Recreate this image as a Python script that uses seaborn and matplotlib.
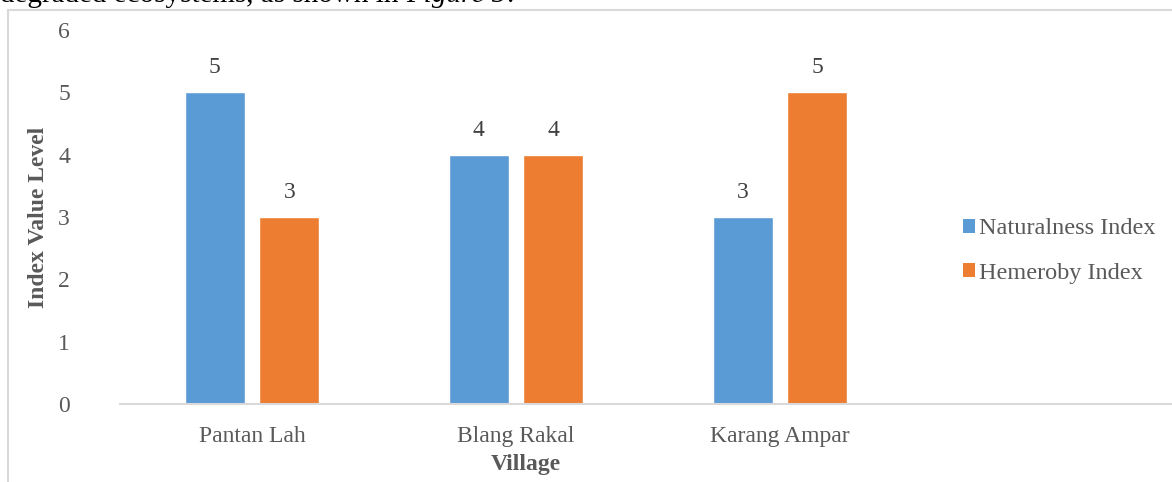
import pandas as pd
import matplotlib
matplotlib.use("Agg")
import matplotlib.pyplot as plt
import seaborn as sns
from matplotlib.patches import Rectangle, Patch

# data
villages = ["Pantan Lah", "Blang Rakal", "Karang Ampar"]
naturalness = [5, 4, 3]
hemeroby = [3, 4, 5]
series_names = ["Naturalness Index", "Hemeroby Index"]
colors = ["#5B9BD5", "#ED7D31"]

df = pd.DataFrame({
    "Village": villages * 2,
    "Value": naturalness + hemeroby,
    "Index": [series_names[0]] * 3 + [series_names[1]] * 3,
})

sns.set_style("white")
plt.rcParams["font.family"] = ["Liberation Serif", "DejaVu Serif"]

W, H = 1172, 482
fig = plt.figure(figsize=(W / 100, H / 100), dpi=100)
ax = fig.add_axes([120 / W, (H - 404) / H, 1 - 120 / W, 374 / H])

sns.barplot(data=df, x="Village", y="Value", hue="Index", palette=colors,
            width=0.568, gap=0.2, ax=ax, legend=False, saturation=1)

ax.set_ylim(0, 6)
ax.set_xlim(-0.5, (W - 120) / 264 - 0.5)
ax.set_yticks(range(0, 7))
for s in ["top", "right", "left"]:
    ax.spines[s].set_visible(False)
ax.spines["bottom"].set_color("#D9D9D9")
ax.spines["bottom"].set_linewidth(1.5)
ax.tick_params(axis="both", length=0, labelsize=17, labelcolor="#595959")
ax.tick_params(axis="y", pad=36)
ax.tick_params(axis="x", pad=16)

ax.set_ylabel("Index Value Level", fontsize=17, fontweight="bold", color="#595959")
ax.set_xlabel("Village", fontsize=17, fontweight="bold", color="#595959")
ax.yaxis.set_label_coords((49 - 120) / (W - 120), 0.5)
ax.xaxis.set_label_coords((526 - 120) / (W - 120), (404 - 454) / 374)

for c in ax.containers:
    ax.bar_label(c, padding=10, fontsize=17, color="#404040")

handles = [Patch(facecolor=col, edgecolor="none", label=n) for col, n in zip(colors, series_names)]
fig.legend(handles=handles, loc="center left", bbox_to_anchor=(941 / W, 1 - 251 / H),
           frameon=False, fontsize=17.5, handlelength=0.5, handleheight=0.5,
           handletextpad=0.15, labelspacing=0.95, labelcolor="#595959")

# chart frame
fig.patches.append(Rectangle((8 / W, -0.1), 1.2, 1.1 - 10 / H, transform=fig.transFigure,
                             fill=False, edgecolor="#D9D9D9", linewidth=1.5, zorder=0))

# cut-off paragraph text above the chart
base = 1 - 2 / H
t1 = fig.text(0, base, "degraded ecosystems, as shown in ", fontsize=21,
              color="black", va="baseline", ha="left")
fig.canvas.draw()
bb = t1.get_window_extent()
t2 = fig.text(bb.x1 / W, base, "Figure 5", fontsize=21, style="italic",
              color="black", va="baseline", ha="left")
fig.canvas.draw()
bb2 = t2.get_window_extent()
fig.text(bb2.x1 / W, base, ".", fontsize=21, color="black", va="baseline", ha="left")

fig.savefig("out.png", dpi=100)
